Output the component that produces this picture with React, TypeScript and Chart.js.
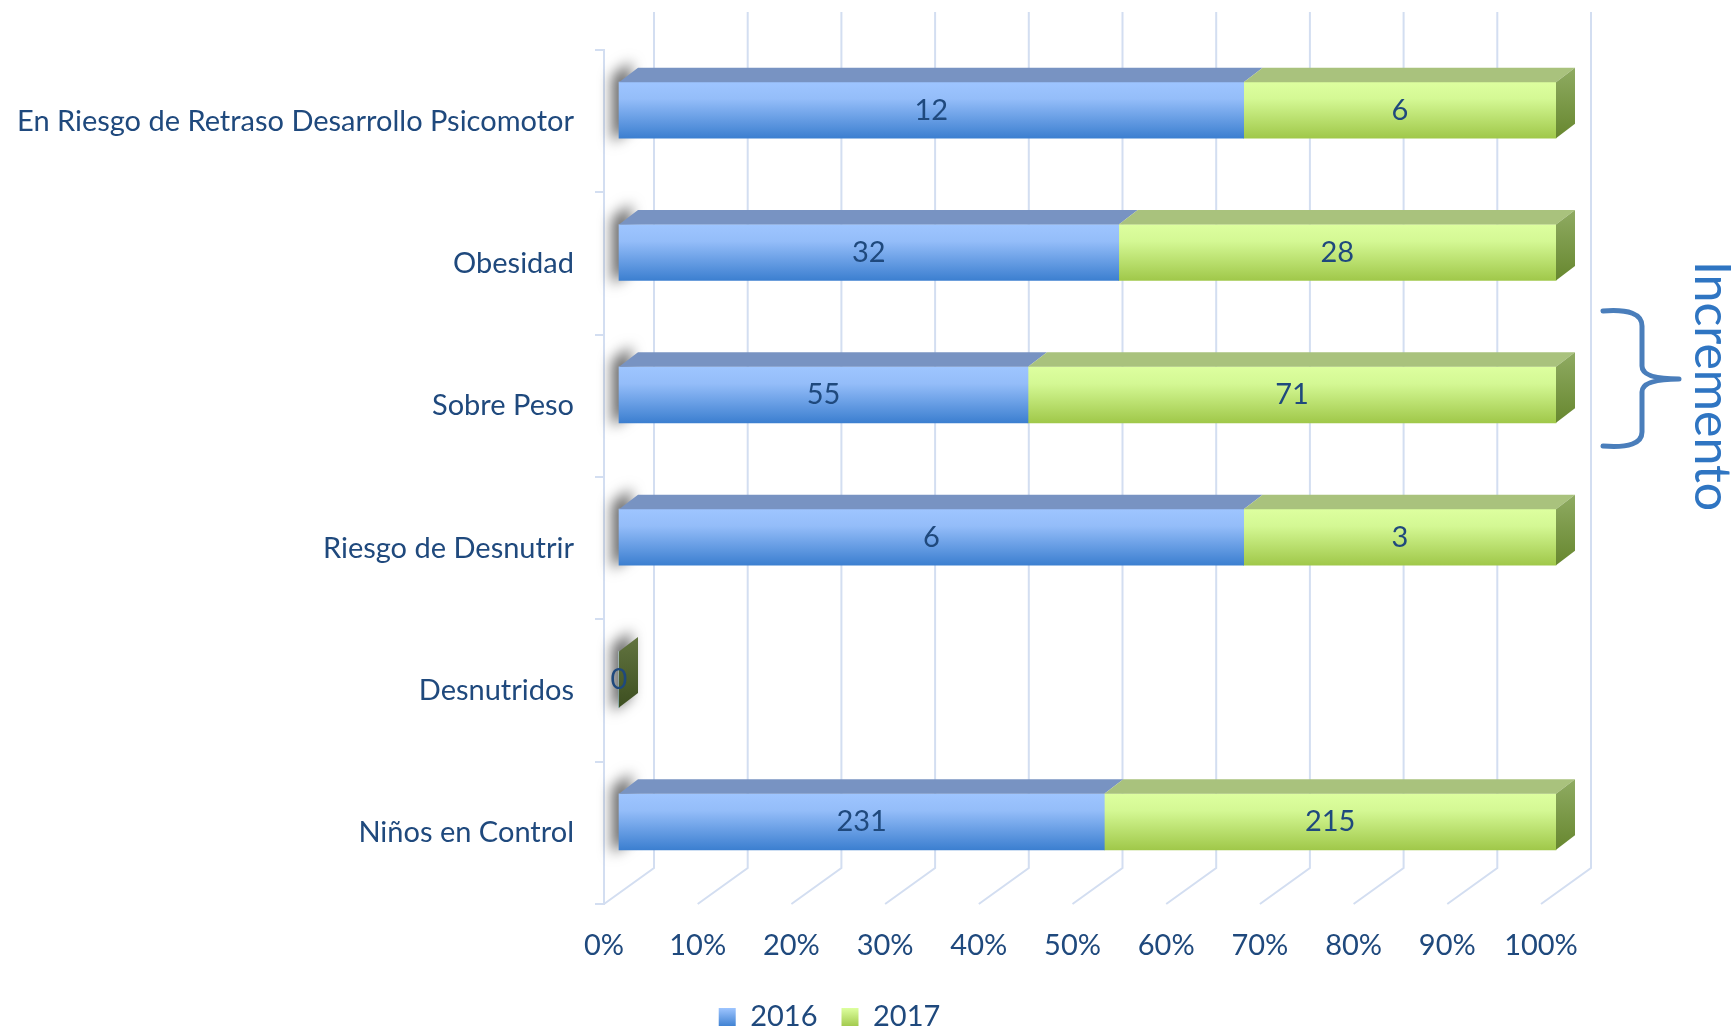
import React, { useEffect, useRef } from 'react';
import { Chart, registerables } from 'chart.js';

Chart.register(...registerables);

// ---------- data ----------
const categories = [
  'En Riesgo de Retraso Desarrollo Psicomotor',
  'Obesidad',
  'Sobre Peso',
  'Riesgo de Desnutrir',
  'Desnutridos',
  'Niños en Control',
];
const seriesNames = ['2016', '2017'];
const values2016 = [12, 32, 55, 6, 0, 231];
const values2017 = [6, 28, 71, 3, 0, 215];
const percentTicks = [0, 10, 20, 30, 40, 50, 60, 70, 80, 90, 100];
const annotationText = 'Incremento';

// ---------- style ----------
const FONT = 'Lato, "Open Sans", sans-serif';
const TEXT = '#1f497d';
const GRID = '#d3def1';
const BAR_T = 56;
const SHIFT_X = 15;
const SHIFT_Y = -11;
const DX = 19;
const DY = 14.5;
const WALL_X = 50;
const WALL_Y = 36;
const WALL_TOP = 12;

const palettes = [
  {
    front: ['#9ec5ff', '#94bdf9', '#3c7fd0'],
    top: '#7893c2',
    side: ['#6f8fc4', '#4a6fa8'],
    legend: ['#9ec5ff', '#3c7fd0'],
  },
  {
    front: ['#ddff9f', '#d4f894', '#a0c84a'],
    top: '#a9c27d',
    side: ['#8fab62', '#67872f'],
    legend: ['#ddff9f', '#a0c84a'],
  },
];
const ZERO_SIDE = ['#627440', '#3d4f20'];

const toPct = (a: number, b: number) => (a + b === 0 ? 0 : (a / (a + b)) * 100);
const pct2016 = values2016.map((v, i) => toPct(v, values2017[i]));
const pct2017 = values2017.map((v, i) => toPct(v, values2016[i]));
const rawSeries = [values2016, values2017];

const ok = (...n: number[]) => n.every((v) => Number.isFinite(v));

function frontFill(p: number) {
  return (ctx: any) => {
    const pal = palettes[p];
    const chart = ctx.chart;
    const ys = chart.scales && chart.scales.y;
    if (ctx.type !== 'data' || !ys || !chart.chartArea) return pal.front[1];
    const c = ys.getPixelForValue(ctx.dataIndex);
    if (!ok(c)) return pal.front[1];
    const g = chart.ctx.createLinearGradient(0, c - BAR_T / 2, 0, c + BAR_T / 2);
    g.addColorStop(0, pal.front[0]);
    g.addColorStop(0.3, pal.front[1]);
    g.addColorStop(1, pal.front[2]);
    return g;
  };
}

function poly(ctx: CanvasRenderingContext2D, pts: number[][]) {
  ctx.beginPath();
  ctx.moveTo(pts[0][0], pts[0][1]);
  for (let i = 1; i < pts.length; i++) ctx.lineTo(pts[i][0], pts[i][1]);
  ctx.closePath();
}

const bar3d = {
  id: 'bar3d',
  beforeDatasetsDraw(chart: any) {
    const ctx: CanvasRenderingContext2D = chart.ctx;
    const xs = chart.scales.x;
    const bottom = chart.chartArea.bottom;
    // back wall + floor
    ctx.save();
    ctx.strokeStyle = GRID;
    ctx.lineWidth = 2;
    xs.ticks.forEach((_t: any, i: number) => {
      const xf = xs.getPixelForTick(i);
      const xb = xf + WALL_X;
      ctx.beginPath();
      ctx.moveTo(xb, WALL_TOP);
      ctx.lineTo(xb, bottom - WALL_Y);
      ctx.lineTo(xf, bottom);
      ctx.stroke();
    });
    ctx.restore();

    ctx.save();
    ctx.translate(SHIFT_X, SHIFT_Y);
    // soft shadows at the left end of each bar
    const meta0 = chart.getDatasetMeta(0);
    const x0 = xs.getPixelForValue(0);
    meta0.data.forEach((el: any) => {
      const { y, height } = el.getProps(['y', 'height'], true);
      if (!ok(y, height)) return;
      const top = y - height / 2 - 6;
      const bot = y + height / 2 + 4;
      const off = 10000;
      const xl = x0 - 7 - off;
      ctx.save();
      ctx.shadowColor = 'rgba(0,0,0,0.6)';
      ctx.shadowBlur = 14;
      ctx.shadowOffsetX = off;
      ctx.fillStyle = '#000';
      poly(ctx, [
        [xl, top],
        [xl + DX, top - DY],
        [xl + DX, bot - DY],
        [xl, bot],
      ]);
      ctx.fill();
      ctx.restore();
    });
  },
  afterDatasetsDraw(chart: any) {
    const ctx: CanvasRenderingContext2D = chart.ctx;
    const xs = chart.scales.x;
    const x0 = xs.getPixelForValue(0);
    const metas = [chart.getDatasetMeta(0), chart.getDatasetMeta(1)];
    categories.forEach((_c, i) => {
      const segs = metas.map((m: any) => m.data[i].getProps(['x', 'y', 'base', 'height'], true));
      const y = segs[0].y;
      if (!ok(y)) return;
      const top = y - BAR_T / 2;
      const bot = y + BAR_T / 2;
      let last = -1;
      segs.forEach((s: any, d: number) => {
        if (!ok(s.base, s.x)) return;
        const a = Math.min(s.base, s.x);
        const b = Math.max(s.base, s.x);
        if (b - a < 0.5) return;
        last = d;
        ctx.fillStyle = palettes[d].top;
        poly(ctx, [
          [a, top],
          [a + DX, top - DY],
          [b + DX, top - DY],
          [b, top],
        ]);
        ctx.fill();
      });
      let sideX = x0;
      let sideCols = ZERO_SIDE;
      if (last >= 0) {
        sideX = Math.max(segs[last].base, segs[last].x);
        sideCols = palettes[last].side;
      }
      const g = ctx.createLinearGradient(0, top - DY, 0, bot);
      g.addColorStop(0, sideCols[0]);
      g.addColorStop(1, sideCols[1]);
      ctx.fillStyle = g;
      poly(ctx, [
        [sideX, top],
        [sideX + DX, top - DY],
        [sideX + DX, bot - DY],
        [sideX, bot],
      ]);
      ctx.fill();

      // value labels
      ctx.fillStyle = TEXT;
      ctx.font = `29px ${FONT}`;
      ctx.textAlign = 'center';
      ctx.textBaseline = 'middle';
      if (last < 0) {
        ctx.fillText(String(rawSeries[0][i]), x0, y);
      } else {
        segs.forEach((s: any, d: number) => {
          if (Math.abs(s.x - s.base) < 0.5) return;
          ctx.fillText(String(rawSeries[d][i]), (s.x + s.base) / 2, y);
        });
      }
    });
    ctx.restore();
  },
  afterDraw(chart: any) {
    const ctx: CanvasRenderingContext2D = chart.ctx;
    ctx.save();
    // brace
    ctx.strokeStyle = '#4a7ebb';
    ctx.lineWidth = 5;
    ctx.lineCap = 'round';
    ctx.lineJoin = 'round';
    ctx.beginPath();
    ctx.moveTo(1603, 311);
    ctx.quadraticCurveTo(1642, 308, 1642, 326);
    ctx.lineTo(1642, 366);
    ctx.quadraticCurveTo(1642, 379, 1679, 379);
    ctx.quadraticCurveTo(1642, 379, 1642, 392);
    ctx.lineTo(1642, 432);
    ctx.quadraticCurveTo(1642, 449, 1603, 446);
    ctx.stroke();
    // rotated text
    ctx.translate(1695, 386);
    ctx.rotate(Math.PI / 2);
    ctx.fillStyle = '#2f75c2';
    ctx.font = `50px ${FONT}`;
    ctx.textAlign = 'center';
    ctx.textBaseline = 'alphabetic';
    ctx.fillText(annotationText, 0, 0);
    ctx.restore();
  },
};

export default function App() {
  const ref = useRef<HTMLCanvasElement>(null);
  useEffect(() => {
    document.body.style.margin = '0';
    document.body.style.overflow = 'hidden';
    const canvas = ref.current;
    if (!canvas) return;
    const chart = new Chart(canvas, {
      type: 'bar',
      data: {
        labels: categories,
        datasets: [
          {
            label: seriesNames[0],
            data: pct2016,
            backgroundColor: frontFill(0),
            borderWidth: 0,
            barThickness: BAR_T,
            clip: false as any,
          },
          {
            label: seriesNames[1],
            data: pct2017,
            backgroundColor: frontFill(1),
            borderWidth: 0,
            barThickness: BAR_T,
            clip: false as any,
          },
        ],
      },
      options: {
        indexAxis: 'y',
        responsive: false,
        animation: false,
        events: [],
        devicePixelRatio: 1,
        layout: { padding: { top: 50, left: 0, right: 73, bottom: -11.5 } },
        scales: {
          x: {
            type: 'linear',
            stacked: true,
            min: 0,
            max: 100,
            afterBuildTicks: (scale: any) => {
              scale.ticks = percentTicks.map((v) => ({ value: v }));
            },
            afterFit: (scale: any) => {
              scale.height = 74.5;
            },
            grid: { display: false, drawTicks: false },
            border: { display: false },
            ticks: {
              autoSkip: false,
              maxRotation: 0,
              padding: 24,
              color: TEXT,
              font: { family: FONT, size: 29 },
              callback: (v: any) => `${v}%`,
            },
          },
          y: {
            type: 'category',
            stacked: true,
            afterFit: (scale: any) => {
              scale.width = 604;
            },
            grid: {
              display: true,
              drawOnChartArea: false,
              drawTicks: true,
              tickLength: 9,
              color: GRID,
              lineWidth: 2,
              offset: true,
            },
            border: { display: true, color: GRID, width: 2 },
            ticks: {
              padding: 21,
              color: TEXT,
              font: { family: FONT, size: 29 },
            },
          },
          yRight: {
            type: 'category',
            position: 'right',
            display: true,
            afterFit: (scale: any) => {
              scale.width = 118;
            },
            grid: { display: false, drawTicks: false },
            border: { display: false },
            ticks: { display: false },
          },
        },
        plugins: {
          tooltip: { enabled: false },
          legend: {
            display: true,
            position: 'bottom',
            labels: {
              color: TEXT,
              font: { family: FONT, size: 29 },
              boxWidth: 17,
              boxHeight: 18,
              padding: 24,
              generateLabels: (ch: any) => {
                const items = (Chart.defaults.plugins.legend.labels as any).generateLabels(ch);
                items.forEach((it: any, i: number) => {
                  const g = ch.ctx.createLinearGradient(0, 1008, 0, 1027);
                  g.addColorStop(0, palettes[i].legend[0]);
                  g.addColorStop(1, palettes[i].legend[1]);
                  it.fillStyle = g;
                  it.strokeStyle = 'rgba(0,0,0,0)';
                  it.lineWidth = 0;
                });
                return items;
              },
            },
          },
        },
      } as any,
      plugins: [bar3d],
    });
    return () => chart.destroy();
  }, []);
  return (
    <div style={{ width: 1732, height: 1030, position: 'relative', background: '#fff' }}>
      <canvas ref={ref} width={1732} height={1030} style={{ display: 'block' }} />
    </div>
  );
}
